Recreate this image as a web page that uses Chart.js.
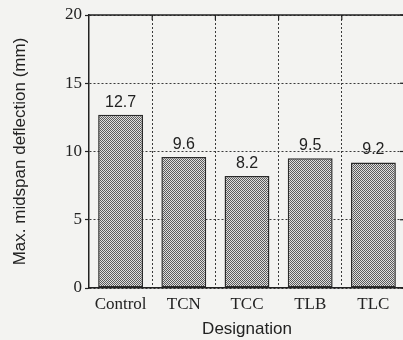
<!DOCTYPE html>
<html><head><meta charset="utf-8">
<script src="https://cdn.jsdelivr.net/npm/chart.js@4/dist/chart.umd.min.js"></script>
<style>
html,body{margin:0;padding:0;overflow:hidden;background:#f3f3f1;width:403px;height:340px}
#wrap{width:406px;height:340px}
</style></head>
<body><div id="wrap"><canvas id="c" width="406" height="340"></canvas></div>
<script>
const categories = ['Control', 'TCN', 'TCC', 'TLB', 'TLC'];
const deflection = [12.7, 9.6, 8.2, 9.5, 9.2];
const yTicks = [0, 5, 10, 15, 20];

function makePattern() {
  const p = document.createElement('canvas');
  p.width = 2; p.height = 2;
  const g = p.getContext('2d');
  g.fillStyle = '#dedede'; g.fillRect(0, 0, 2, 2);
  g.fillStyle = '#5a5a5a'; g.fillRect(0, 0, 1, 1); g.fillRect(1, 1, 1, 1);
  return g.createPattern(p, 'repeat');
}

const framePlugin = {
  id: 'frame',
  afterDraw(chart) {
    const { ctx, chartArea: a, scales } = chart;
    ctx.save();
    ctx.strokeStyle = '#222'; ctx.lineWidth = 1.5; ctx.setLineDash([]);
    ctx.beginPath();
    ctx.moveTo(a.left, a.top); ctx.lineTo(a.right, a.top); ctx.lineTo(a.right, a.bottom);
    ctx.stroke();
    ctx.lineWidth = 1.2;
    for (let i = 0; i < categories.length - 1; i++) {
      const x = scales.x.getPixelForValue(i + 0.5);
      ctx.beginPath(); ctx.moveTo(x, a.top); ctx.lineTo(x, a.top + 5); ctx.stroke();
    }
    yTicks.forEach(v => {
      const y = scales.y.getPixelForValue(v);
      ctx.beginPath(); ctx.moveTo(a.right - 5, y); ctx.lineTo(a.right, y); ctx.stroke();
    });
    ctx.font = '16px "Liberation Sans", Arial, sans-serif';
    ctx.fillStyle = '#222'; ctx.textAlign = 'center'; ctx.textBaseline = 'alphabetic';
    const meta = chart.getDatasetMeta(0);
    meta.data.forEach((bar, i) => {
      ctx.fillText(deflection[i].toFixed(1), bar.x, bar.y - 8);
    });
    ctx.restore();
  }
};

new Chart(document.getElementById('c'), {
  type: 'bar',
  data: {
    labels: categories,
    datasets: [{
      data: deflection,
      backgroundColor: makePattern(),
      borderColor: '#2a2a2a',
      borderWidth: 1.5,
      borderSkipped: false,
      categoryPercentage: 1,
      barPercentage: 0.71
    }]
  },
  options: {
    responsive: false,
    animation: false,
    devicePixelRatio: 1,
    layout: { padding: { top: 15, right: 1, left: 0, bottom: 0 } },
    plugins: { legend: { display: false }, tooltip: { enabled: false } },
    scales: {
      x: {
        offset: true,
        grid: { offset: true, color: '#3a3a3a', lineWidth: 1, drawTicks: false },
        border: { display: true, color: '#222', width: 1.5, dash: [2, 2] },
        ticks: { font: { family: 'Liberation Serif', size: 17 }, color: '#222', padding: 6 },
        title: { display: true, text: 'Designation', font: { family: 'Liberation Sans', size: 17 }, color: '#222', padding: { top: 0, bottom: 0 } },
        afterFit(s) { s.height = 52; }
      },
      y: {
        min: 0, max: 20,
        afterBuildTicks(s) { s.ticks = yTicks.map(v => ({ value: v })); },
        ticks: { font: { family: 'Liberation Serif', size: 17 }, color: '#222', padding: 3 },
        grid: { color: '#3a3a3a', lineWidth: 1, drawTicks: true, tickLength: 4, tickColor: '#222', tickWidth: 1.2 },
        border: { color: '#222', width: 1.5, dash: [2, 2] },
        title: { display: true, text: 'Max. midspan deflection (mm)', font: { family: 'Liberation Sans', size: 17 }, color: '#222', padding: { top: 10, bottom: 0 } },
        afterFit(s) { s.width = 89; }
      }
    }
  },
  plugins: [framePlugin]
});
</script>
</body></html>
